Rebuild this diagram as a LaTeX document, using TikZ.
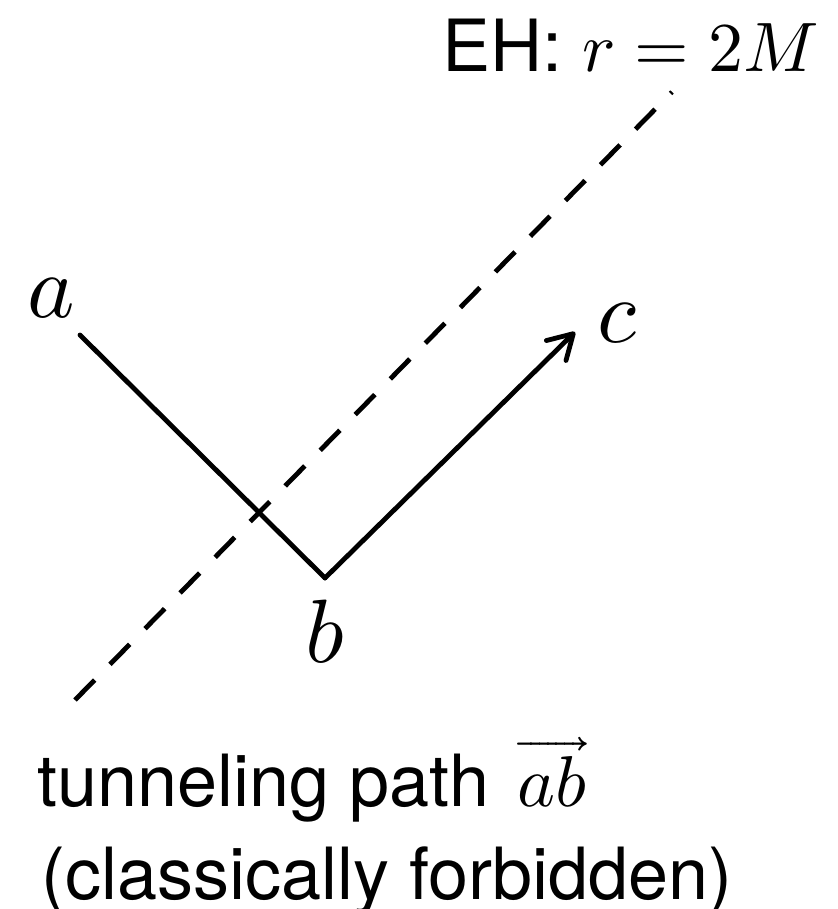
\documentclass[tikz,border=0pt]{standalone}
\usepackage{fontspec}
\usepackage{unicode-math}
\setmainfont{TeX Gyre Heros}
\setmathfont{Latin Modern Math}
\usetikzlibrary{arrows.meta}
\begin{document}
\begin{tikzpicture}[
    x=0.5pt, y=-0.5pt,
    path/.style={line width=2.4pt, line cap=round},
    horizon/.style={line width=2.4pt, dash pattern=on 14pt off 11pt},
    lab/.style={font=\fontsize{45}{54}\selectfont, inner sep=0pt},
    txt/.style={font=\fontsize{36}{44}\selectfont, inner sep=0pt, anchor=base west}
  ]
    \useasboundingbox (0,0) rectangle (838,909);
    % event horizon
    \coordinate (h1) at (75,700);
    \coordinate (h2) at (672,92);
    \draw[horizon] (h1) -- (h2);
    \node[txt] (eh) at (442,72) {EH: \fontsize{35}{44}\selectfont$r = 2M$};
    % path a -> b -> c
    \coordinate (pa) at (80,335);
    \coordinate (pb) at (325,578);
    \coordinate (pc) at (575,332);
    \draw[path] (pa) -- (pb);
    \draw[path, -{Straight Barb[length=12pt, width=14pt, round]}] (pb) -- (pc);
    \node[lab] (la) at (51,298) {$a$};
    \node[lab, anchor=base] (lb) at (325,662) {$b$};
    \node[lab, anchor=base] (lc) at (618,342) {$c$};
    % caption
    \node[txt] (lpath) at (37,806) {tunneling path\hspace{14pt}$\overrightarrow{ab}$};
    \node[txt] (lforb) at (41,899) {(classically forbidden)};
  \end{tikzpicture}
\end{document}
